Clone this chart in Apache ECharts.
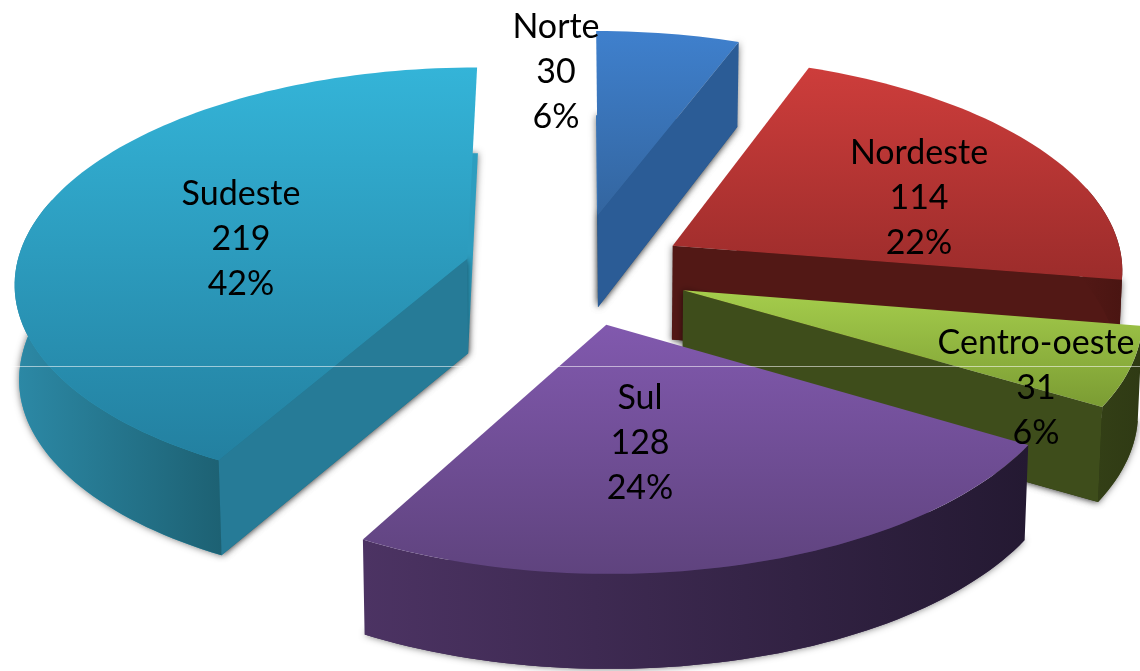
<!DOCTYPE html>
<html>
<head>
<meta charset="utf-8">
<style>html,body{margin:0;padding:0;background:#fff}#c{width:1140px;height:671px}</style>
<script src="https://cdn.jsdelivr.net/npm/echarts@6/dist/echarts.min.js"></script>
</head>
<body>
<div id="c"></div>
<script>
const regions = ['Norte', 'Nordeste', 'Centro-oeste', 'Sul', 'Sudeste'];
const counts = [30, 114, 31, 128, 219];
const percentLabels = ['6%', '22%', '6%', '24%', '42%'];

// layout of the tilted, exploded pie (unit-radius world projected with perspective)
const hub = [576, 272], radiusX = 452, radiusY = 213, perspective = 0.1, depth = 95, taper = 0.008;
const explode = [0.28, 0.25, 0.25, 0.25, 0.25];
const labelCenter = [[556, 72], [919, 198], [1036, 388], [640, 443], [241, 239]];
const sliceStyle = [
  {top: ['#3f80cd', '#33659f'], floor: '#3873b5', side: '#2b5c96', rim: ['#2b5c96', '#234d80']},
  {top: ['#cd3d3b', '#9c2c2b'], floor: '#521815', side: '#521815', rim: ['#521815', '#4a1512']},
  {top: ['#a5cd4c', '#7b9c33'], floor: '#3e4d1b', side: '#3e4d1b', rim: ['#333f16', '#2f3a14']},
  {top: ['#8159ae', '#5f437e'], floor: '#3d2a55', side: '#3d2a55', rim: ['#4c3363', '#241932']},
  {top: ['#34b4d8', '#2380a0'], floor: '#2d9dbf', side: '#267b97', rim: ['#2c89a6', '#1d6173']}
];

const total = counts.reduce((a, b) => a + b, 0);
const starts = [];
counts.reduce((acc, v, i) => { starts[i] = acc; return acc + v; }, 0);
const rad = v => v / total * Math.PI * 2;

function grad(x2, y2, c) {
  return {type: 'linear', x: 0, y: 0, x2, y2, colorStops: [{offset: 0, color: c[0]}, {offset: 1, color: c[1]}]};
}
const shadow = {shadowBlur: 7, shadowColor: 'rgba(0,0,0,0.55)'};

function project(X, Y, low) {
  const f = 1 / (1 + perspective * Y);
  return [
    hub[0] + radiusX * X * f * (low ? 1 - taper : 1),
    hub[1] - radiusY * Y * f + (low ? depth * Math.min(f, 1) : 0)
  ];
}

function renderItem(params, api) {
  const i = params.dataIndex;
  const a1 = rad(starts[i]), a2 = rad(starts[i] + api.value(0));
  const mid = (a1 + a2) / 2;
  const ex = explode[i] * Math.sin(mid), ey = explode[i] * Math.cos(mid);
  const rimAt = (t, low) => project(ex + Math.sin(t), ey + Math.cos(t), low);
  const apexAt = low => project(ex, ey, low);
  const n = Math.max(12, Math.round((a2 - a1) * 40));
  const angles = [];
  for (let k = 0; k <= n; k++) angles.push(a1 + (a2 - a1) * k / n);
  const s = sliceStyle[i];
  const poly = (points, style) => ({type: 'polygon', shape: {points}, style});
  const children = [];
  // floor of the slice: carries the soft drop shadow
  children.push(poly([apexAt(true), ...angles.map(t => rimAt(t, true))], {fill: s.floor, ...shadow}));
  // cut faces
  const cutWall = t => poly([apexAt(false), rimAt(t, false), rimAt(t, true), apexAt(true)], {fill: s.side, ...shadow});
  if (Math.sin(a2) > 1e-6) children.push(cutWall(a2));
  if (Math.sin(a1) < -1e-6) children.push(cutWall(a1));
  // outer curved wall
  const front = angles.filter(t => Math.cos(t) < 0.3);
  if (front.length > 1) {
    children.push(poly([
      ...front.map(t => rimAt(t, false)),
      ...front.slice().reverse().map(t => rimAt(t, true))
    ], {fill: grad(1, 0, s.rim)}));
  }
  // top face
  children.push(poly([apexAt(false), ...angles.map(t => rimAt(t, false))], {fill: grad(0, 1, s.top)}));
  // label
  children.push({
    type: 'text', z2: 100,
    x: labelCenter[i][0], y: labelCenter[i][1],
    style: {
      text: regions[i] + '\n' + api.value(0) + '\n' + percentLabels[i],
      fill: '#000', font: '34px Lato', lineHeight: 45, align: 'center', verticalAlign: 'middle'
    }
  });
  return {type: 'group', children};
}

const chart = echarts.init(document.getElementById('c'), null, {renderer: 'canvas'});
chart.setOption({
  animation: false,
  backgroundColor: '#fff',
  series: [{
    type: 'custom',
    coordinateSystem: 'none',
    renderItem,
    data: counts.map(v => [v])
  }],
  graphic: [{
    type: 'line', z: 50, silent: true,
    shape: {x1: 0, y1: 366.5, x2: 1140, y2: 366.5},
    style: {stroke: 'rgba(255,255,255,0.55)', lineWidth: 1}
  }]
});
</script>
</body>
</html>
